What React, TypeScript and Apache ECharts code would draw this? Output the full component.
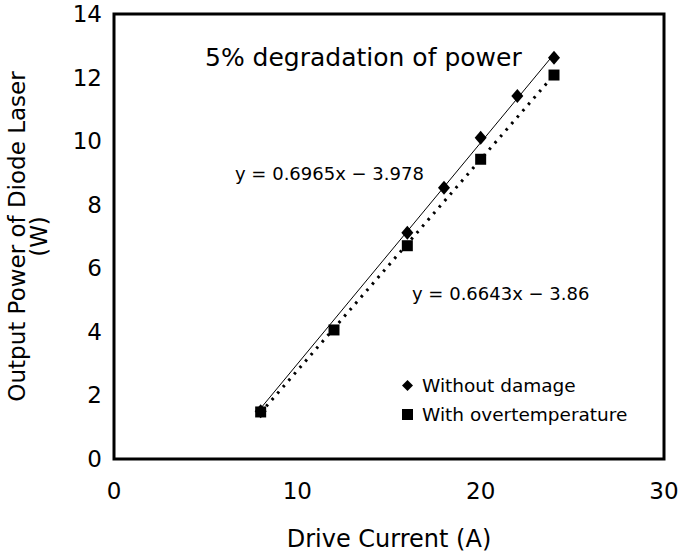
import React, { useEffect, useRef } from "react";
import * as echarts from "echarts";

const currentWithout = [8, 16, 18, 20, 22, 24];
const powerWithout = [1.5, 7.12, 8.53, 10.11, 11.42, 12.62];
const currentOver = [8, 12, 16, 20, 24];
const powerOver = [1.48, 4.06, 6.71, 9.43, 12.08];
const fitWithout = { slope: 0.6965, intercept: -3.978 };
const fitOver = { slope: 0.6643, intercept: -3.86 };
const fitRange = [8, 24];
const xTicks = [0, 10, 20, 30];
const yTicks = [0, 2, 4, 6, 8, 10, 12, 14];

const FONT = "DejaVu Sans, Liberation Sans, Arial, sans-serif";

export default function App() {
  const ref = useRef<HTMLDivElement>(null);
  useEffect(() => {
    if (!ref.current) return;
    const chart = echarts.init(ref.current, undefined, { renderer: "svg" });
    const fitLine = (f: { slope: number; intercept: number }) =>
      fitRange.map((x) => [x, f.slope * x + f.intercept]);
    chart.setOption({
      animation: false,
      backgroundColor: "#fff",
      textStyle: { fontFamily: FONT },
      grid: {
        left: 114, right: 16, top: 14, bottom: 98,
        outerBoundsMode: "none", containLabel: false,
        show: true, borderColor: "#000", borderWidth: 3, backgroundColor: "transparent",
      },
      xAxis: {
        type: "value",
        min: xTicks[0],
        max: xTicks[xTicks.length - 1],
        interval: 10,
        axisLine: { show: false },
        axisTick: { show: false },
        splitLine: { show: false },
        axisLabel: { color: "#000", fontSize: 23, margin: 20, fontFamily: FONT },
        name: "Drive Current (A)",
        nameLocation: "middle",
        nameGap: 68,
        nameTextStyle: { color: "#000", fontSize: 24, fontFamily: FONT },
      },
      yAxis: {
        type: "value",
        min: yTicks[0],
        max: yTicks[yTicks.length - 1],
        interval: 2,
        axisLine: { show: false },
        axisTick: { show: false },
        splitLine: { show: false },
        axisLabel: { color: "#000", fontSize: 23, margin: 12, fontFamily: FONT },
        name: "Output Power of Diode Laser\n(W)",
        nameLocation: "middle",
        nameGap: 64,
        nameTextStyle: { color: "#000", fontSize: 23, fontFamily: FONT, lineHeight: 22 },
      },
      legend: {
        orient: "vertical",
        left: 397,
        top: 371,
        itemWidth: 11,
        itemHeight: 11,
        itemGap: 10,
        textStyle: { color: "#000", fontSize: 18.5, fontFamily: FONT, padding: [0, 0, 0, 4] },
        data: [
          { name: "Without damage", icon: "diamond", itemStyle: { opacity: 1, color: "#000" } },
          { name: "With overtemperature", icon: "rect", itemStyle: { opacity: 1, color: "#000" } },
        ],
      },
      series: [
        {
          name: "fitWithout",
          type: "line",
          data: fitLine(fitWithout),
          symbol: "none",
          lineStyle: { color: "#000", width: 1 },
          silent: true,
        },
        {
          name: "fitOver",
          type: "line",
          data: fitLine(fitOver),
          symbol: "none",
          lineStyle: { color: "#000", width: 3, type: [2.5, 6] },
          silent: true,
        },
        {
          name: "With overtemperature",
          type: "scatter",
          data: currentOver.map((x, i) => [x, powerOver[i]]),
          symbol: "rect",
          symbolSize: 11,
          itemStyle: { color: "#000", opacity: 1 },
        },
        {
          name: "Without damage",
          type: "scatter",
          data: currentWithout.map((x, i) => [x, powerWithout[i]]),
          symbol: "diamond",
          symbolSize: [12, 14],
          itemStyle: { color: "#000", opacity: 1 },
        },
      ],
      graphic: [
        { type: "text", left: 205, top: 45, style: { text: "5% degradation of power", fontSize: 25, fill: "#000", fontFamily: FONT } },
        { type: "text", left: 235, top: 164, style: { text: "y = 0.6965x \u2212 3.978", fontSize: 18, fill: "#000", fontFamily: FONT } },
        { type: "text", left: 412, top: 284, style: { text: "y = 0.6643x \u2212 3.86", fontSize: 18, fill: "#000", fontFamily: FONT } },
      ],
    });
    return () => chart.dispose();
  }, []);
  return <div ref={ref} style={{ position: "absolute", left: 0, top: 0, width: 680, height: 557 }} />;
}
